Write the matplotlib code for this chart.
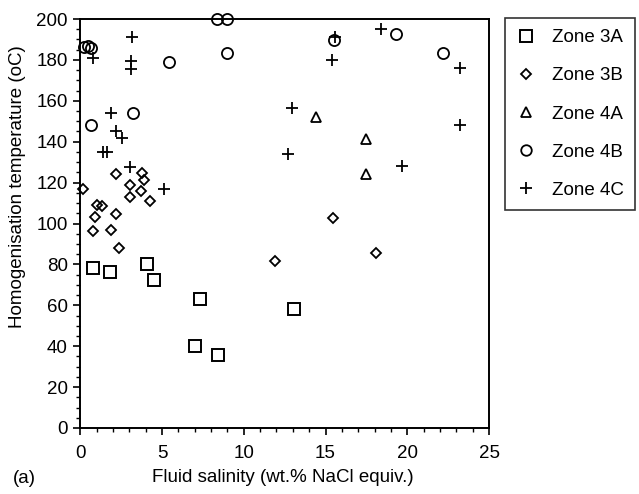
import matplotlib
matplotlib.use("Agg")
import matplotlib.pyplot as plt
from matplotlib.ticker import MultipleLocator

plt.rcParams['font.family'] = ['Liberation Sans', 'DejaVu Sans']

zone3a_x = [0.8, 1.8, 4.1, 4.5, 7.3, 7.0, 8.4, 13.05]
zone3a_y = [78, 76.5, 80, 72.5, 63, 40, 35.5, 58]

zone3b_x = [0.18, 0.75, 0.92, 1.0, 1.3, 1.9, 2.2, 2.35, 2.2, 3.05, 3.05, 3.7, 3.75, 3.9, 4.25, 11.92, 15.45, 18.08]
zone3b_y = [117, 96.5, 103, 109, 108.5, 97, 104.5, 88, 124, 119, 113, 116, 124.5, 121.5, 111, 81.6, 102.8, 85.6]

zone4a_x = [14.42, 17.48, 17.48]
zone4a_y = [152, 141.5, 124]

zone4b_x = [0.2, 0.45, 0.65, 8.35, 8.95, 8.95, 5.45, 3.25, 0.65, 15.5, 19.3, 22.2]
zone4b_y = [186.5, 187, 186, 200, 200, 183.5, 179, 154, 148, 189.5, 192.5, 183.5]

zone4c_x = [0.8, 3.15, 3.1, 3.1, 1.9, 2.2, 2.55, 1.4, 1.65, 3.05, 5.15, 12.95, 12.72, 15.4, 15.6, 18.4, 19.65, 23.2, 23.2]
zone4c_y = [181, 191, 179.5, 175.5, 154, 145, 142, 135, 135, 127.5, 117, 156.5, 134, 180, 191, 195, 128, 176, 148]

labels = ['Zone 3A', 'Zone 3B', 'Zone 4A', 'Zone 4B', 'Zone 4C']

fig = plt.figure(figsize=(6.39, 4.94), dpi=100)
ax = fig.add_axes([80.3/639, 1-428/494, (489-80.3)/639, (428-19)/494])

kw = dict(linestyle='none', markerfacecolor='none', markeredgecolor='black', color='black', clip_on=False)
ax.plot(zone3a_x, zone3a_y, marker='s', markersize=8.5, markeredgewidth=1.4, label=labels[0], **kw)
ax.plot(zone3b_x, zone3b_y, marker='D', markersize=5.5, markeredgewidth=1.3, label=labels[1], **kw)
ax.plot(zone4a_x, zone4a_y, marker='^', markersize=7.5, markeredgewidth=1.3, label=labels[2], **kw)
ax.plot(zone4b_x, zone4b_y, marker='o', markersize=8, markeredgewidth=1.3, label=labels[3], **kw)
ax.plot(zone4c_x, zone4c_y, marker='+', markersize=8.5, markeredgewidth=1.3, label=labels[4], **kw)

ax.set_xlim(0, 25)
ax.set_ylim(0, 200)
ax.xaxis.set_major_locator(MultipleLocator(5))
ax.xaxis.set_minor_locator(MultipleLocator(1))
ax.yaxis.set_major_locator(MultipleLocator(20))
ax.yaxis.set_minor_locator(MultipleLocator(5))
ax.tick_params(which='major', direction='out', length=5, width=1.2, labelsize=13.5, pad=4, colors='black')
ax.tick_params(axis='x', which='major', pad=7)
ax.tick_params(which='minor', direction='out', length=3, width=1.0)
for s in ax.spines.values():
    s.set_linewidth(1.4)
    s.set_color('black')

ax.set_xlabel('Fluid salinity (wt.% NaCl equiv.)', fontsize=13.5)
ax.xaxis.set_label_coords((282.5-80.3)/408.7, (428-478)/409)
ax.xaxis.label.set_va('center')
ax.set_ylabel('Homogenisation temperature (oC)', fontsize=13.5)
ax.yaxis.set_label_coords((18-80.3)/408.7, (428-187)/409)
ax.yaxis.label.set_va('center')
fig.text(13/639, 1-478/494, '(a)', fontsize=13.5, va='center', ha='left')

leg = fig.legend(loc='upper left', bbox_to_anchor=(505/639, 1-18/494), fontsize=13.5,
                 numpoints=1, frameon=True, fancybox=False, edgecolor='black',
                 handlelength=1.0, handletextpad=0.9, labelspacing=1.12, borderpad=0.6,
                 borderaxespad=0)
leg.get_frame().set_linewidth(1.2)
for h in leg.legend_handles:
    h.set_markersize(h.get_markersize() * 0.95)

fig.savefig('out.png', dpi=100)
